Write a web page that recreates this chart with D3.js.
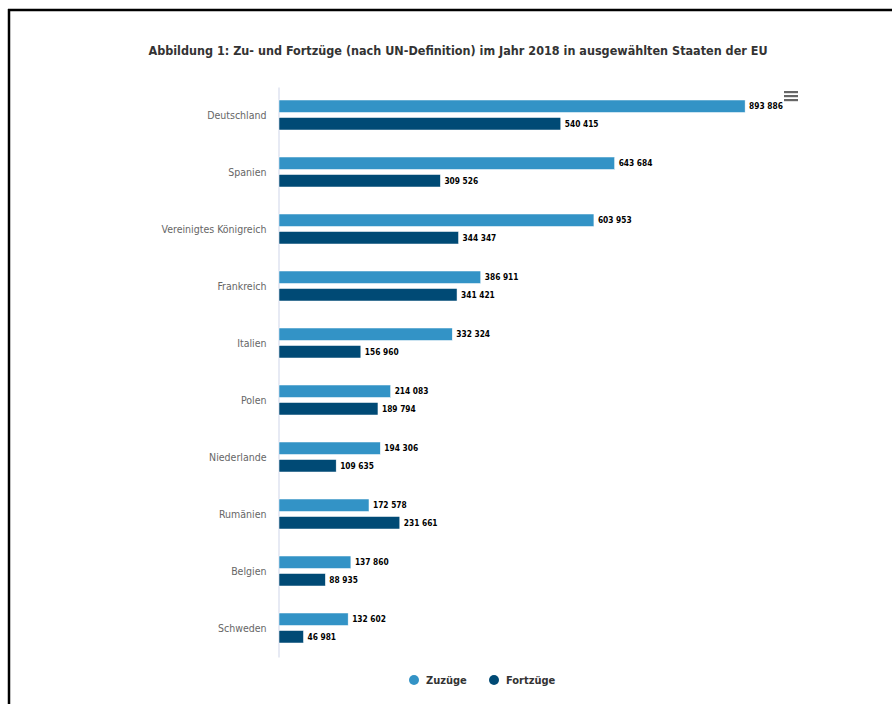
<!DOCTYPE html>
<html>
<head>
<meta charset="utf-8">
<script src="https://cdn.jsdelivr.net/npm/d3@7"></script>
<style>
  body { margin: 0; background: #fff; }
  svg { display: block; }
</style>
</head>
<body>
<svg id="canvas" width="892" height="704"></svg>
<script>
// categories and values
const countries = ['Deutschland', 'Spanien', 'Vereinigtes Königreich', 'Frankreich', 'Italien', 'Polen', 'Niederlande', 'Rumänien', 'Belgien', 'Schweden']
const zuzuege = [893886, 643684, 603953, 386911, 332324, 214083, 194306, 172578, 137860, 132602]
const fortzuege = [540415, 309526, 344347, 341421, 156960, 189794, 109635, 231661, 88935, 46981]
const seriesNames = ['Zuzüge', 'Fortzüge']
const colors = ['#3393c6', '#004a75']

const font = "'DejaVu Sans Condensed', 'Noto Sans', sans-serif"

const svg = d3.select('#canvas')

// frame lines
svg.append('line').attr('x1', 8).attr('x2', 892).attr('y1', 10).attr('y2', 10)
  .attr('stroke', '#000').attr('stroke-width', 2.5)
svg.append('line').attr('x1', 9).attr('x2', 9).attr('y1', 9).attr('y2', 704)
  .attr('stroke', '#000').attr('stroke-width', 2.5)

svg.append('text')
  .attr('x', 458).attr('y', 55)
  .attr('text-anchor', 'middle')
  .attr('font-family', font)
  .attr('font-weight', 'bold')
  .attr('font-size', 12.5)
  .attr('fill', '#333')
  .text('Abbildung 1: Zu- und Fortzüge (nach UN-Definition) im Jahr 2018 in ausgewählten Staaten der EU')

const x = d3.scaleLinear().domain([0, 900000]).range([279, 748.3])
const y = d3.scaleBand().domain(countries).range([87, 657])
const inner = d3.scaleBand().domain(seriesNames).range([13, 43]).paddingInner(0.286)

// category axis
const yAxis = d3.axisLeft(y).tickSize(0).tickPadding(12)
const ga = svg.append('g').attr('transform', 'translate(278.5,0)').call(yAxis)
ga.select('.domain').attr('stroke', '#dfe3f0').attr('stroke-width', 1.5)
ga.selectAll('text')
  .attr('font-family', font)
  .attr('font-size', 10.5)
  .attr('fill', '#666')

const rows = countries.map((c, i) => ({ c, vals: [zuzuege[i], fortzuege[i]] }))

const groups = svg.selectAll('g.row')
  .data(rows)
  .enter()
  .append('g')
  .attr('class', 'row')
  .attr('transform', d => 'translate(0,' + y(d.c) + ')')

const fmt = v => d3.format(',')(v).replace(/,/g, ' ')

seriesNames.forEach((s, k) => {
  groups.append('rect')
    .attr('x', x(0))
    .attr('y', inner(s))
    .attr('width', d => x(d.vals[k]) - x(0))
    .attr('height', inner.bandwidth())
    .attr('fill', colors[k])
    .attr('stroke', '#fff')
    .attr('stroke-width', 0.5)
  groups.append('text')
    .attr('x', d => x(d.vals[k]) + 4)
    .attr('y', inner(s) + inner.bandwidth() / 2)
    .attr('dy', '0.35em')
    .attr('font-family', font)
    .attr('font-weight', 'bold')
    .attr('font-size', 8.3)
    .attr('fill', '#000')
    .attr('stroke', '#fff')
    .attr('stroke-width', 2)
    .attr('paint-order', 'stroke')
    .text(d => fmt(d.vals[k]))
})

// menu icon
const menu = svg.append('g').attr('transform', 'translate(784,91)')
;[0, 4, 8].forEach(dy => {
  menu.append('rect').attr('x', 0).attr('y', dy).attr('width', 14).attr('height', 2.2).attr('fill', '#666')
})

// legend
const legendX = [414, 494]
const legend = svg.selectAll('g.legend')
  .data(seriesNames)
  .enter()
  .append('g')
  .attr('class', 'legend')
  .attr('transform', (d, i) => 'translate(' + legendX[i] + ',680)')
legend.append('circle').attr('r', 5).attr('fill', (d, i) => colors[i])
legend.append('text')
  .attr('x', 12).attr('dy', '0.35em')
  .attr('font-family', font)
  .attr('font-weight', 'bold')
  .attr('font-size', 11)
  .attr('fill', '#333')
  .text(d => d)
</script>
</body>
</html>
